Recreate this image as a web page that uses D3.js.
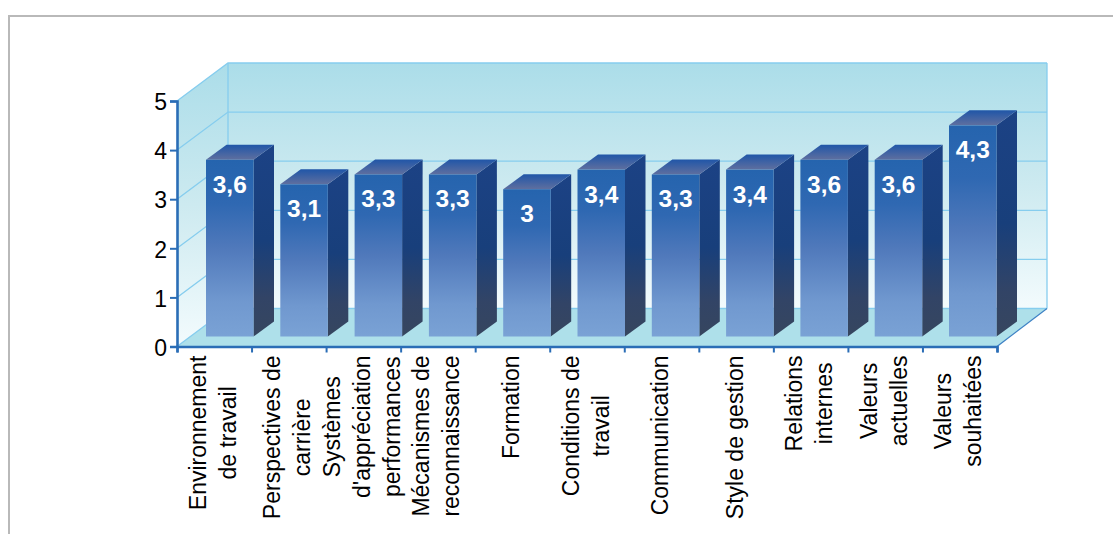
<!DOCTYPE html>
<html>
<head>
<meta charset="utf-8">
<script src="https://cdn.jsdelivr.net/npm/d3@7"></script>
<style>
html,body{margin:0;padding:0;background:#fff;overflow:hidden}
text{font-family:"Liberation Sans",Arial,sans-serif}
</style>
</head>
<body>
<script>
const categories = [
  ["Environnement","de travail"],
  ["Perspectives de","carrière"],
  ["Systèmes","d'appréciation","performances"],
  ["Mécanismes de","reconnaissance"],
  ["Formation"],
  ["Conditions de","travail"],
  ["Communication"],
  ["Style de gestion"],
  ["Relations","internes"],
  ["Valeurs","actuelles"],
  ["Valeurs","souhaitées"]
];
const values = [3.6,3.1,3.3,3.3,3,3.4,3.3,3.4,3.6,3.6,4.3];
const valueLabels = ["3,6","3,1","3,3","3,3","3","3,4","3,3","3,4","3,6","3,6","4,3"];
const yTicks = [0,1,2,3,4,5];

const W=1113,H=534;
const svg=d3.select("body").append("svg").attr("width",W).attr("height",H).style("display","block");
const defs=svg.append("defs");
function grad(id,stops){
  const g=defs.append("linearGradient").attr("id",id).attr("x1",0).attr("y1",0).attr("x2",0).attr("y2",1);
  stops.forEach(s=>g.append("stop").attr("offset",s[0]).attr("stop-color",s[1]));
}
grad("wall",[[0,"#abdde9"],[0.5,"#cdeaf0"],[1,"#f3fbfd"]]);
grad("front",[[0,"#2564ae"],[0.25,"#2f68b2"],[0.5,"#5079bb"],[0.8,"#7098cf"],[1,"#7aa2d5"]]);
grad("side",[[0,"#1c4285"],[0.5,"#183f7b"],[0.8,"#324466"],[1,"#36465f"]]);
grad("top",[[0,"#2056a8"],[1,"#5f6f9f"]]);

// frame
svg.append("path").attr("d",`M9 ${H}V16H${W}`).attr("fill","none").attr("stroke","#b9b9b9").attr("stroke-width",2);

const y=d3.scaleLinear().domain([0,5]).range([346.5,101]);
const xAxisScale=d3.scaleLinear().domain([0,categories.length]).range([177,997]);
const band=d3.scaleBand().domain(d3.range(categories.length)).range([206,996.5]).paddingInner(1-47.5/74.3);
const dep={x:51,y:-38};
const barDep={x:20.5,y:-15};
const baseLift=10;

const x0=xAxisScale(0),x1=xAxisScale(categories.length);
// back wall
svg.append("rect").attr("x",x0+dep.x).attr("y",y(5)+dep.y).attr("width",x1-x0-1).attr("height",y(0)-y(5)).attr("fill","url(#wall)");
// side wall
svg.append("path").attr("d",`M${x0} ${y(0)}L${x0} ${y(5)}L${x0+dep.x} ${y(5)+dep.y}L${x0+dep.x} ${y(0)+dep.y}Z`).attr("fill","url(#wall)");
// floor
svg.append("path").attr("d",`M${x0} ${y(0)}L${x1} ${y(0)}L${x1+dep.x-1} ${y(0)+dep.y}L${x0+dep.x} ${y(0)+dep.y}Z`).attr("fill","#aee0ea");
// grid
const gridColor="#86cdee";
const grid=svg.append("g").attr("fill","none").attr("stroke",gridColor).attr("stroke-width",1.3);
yTicks.forEach(t=>{
  grid.append("path").attr("d",`M${x0} ${y(t)}L${x0+dep.x} ${y(t)+dep.y}L${x1+dep.x-1} ${y(t)+dep.y}`);
});
grid.append("path").attr("d",`M${x0+dep.x} ${y(0)+dep.y}V${y(5)+dep.y}`);
grid.append("path").attr("d",`M${x1+dep.x-1} ${y(0)+dep.y}V${y(5)+dep.y}`);
svg.append("path").attr("d",`M${x1} ${y(0)}L${x1+dep.x-1} ${y(0)+dep.y}`).attr("stroke","#3d80c4").attr("stroke-width",1.2).attr("fill","none");

// bars
const bars=svg.append("g").selectAll("g").data(values).join("g");
const yb=v=>y(v)-baseLift;
bars.append("path").attr("fill","url(#side)").attr("d",(v,i)=>{
  const r=band(i)+band.bandwidth();
  return `M${r} ${yb(0)}L${r} ${yb(v)}L${r+barDep.x} ${yb(v)+barDep.y}L${r+barDep.x} ${yb(0)+barDep.y}Z`;
});
bars.append("path").attr("fill","url(#top)").attr("d",(v,i)=>{
  const l=band(i),r=l+band.bandwidth();
  return `M${l} ${yb(v)}L${r} ${yb(v)}L${r+barDep.x} ${yb(v)+barDep.y}L${l+barDep.x} ${yb(v)+barDep.y}Z`;
});
bars.append("rect").attr("fill","url(#front)")
  .attr("x",(v,i)=>band(i)).attr("width",band.bandwidth())
  .attr("y",v=>yb(v)).attr("height",v=>yb(0)-yb(v));
bars.append("text").text((v,i)=>valueLabels[i])
  .attr("x",(v,i)=>band(i)+band.bandwidth()/2)
  .attr("y",v=>yb(v)+33)
  .attr("text-anchor","middle").attr("fill","#fff").attr("font-weight","bold").attr("font-size",24.5);

// axes
const axisColor="#2a6db6";
const yAxis=svg.append("g").attr("transform",`translate(${x0},0)`)
  .call(d3.axisLeft(y).tickValues(yTicks).tickSize(7).tickFormat(d3.format("d")));
yAxis.selectAll("line").attr("stroke",axisColor).attr("stroke-width",2);
yAxis.select(".domain").attr("stroke",axisColor).attr("stroke-width",2.6);
yAxis.selectAll("text").attr("font-size",23).attr("fill","#000").attr("font-family",'"Liberation Sans",Arial,sans-serif').attr("x",-10).attr("dy","0.38em");

const xAxis=svg.append("g").attr("transform",`translate(0,${y(0)})`)
  .call(d3.axisBottom(xAxisScale).tickValues(d3.range(categories.length+1)).tickSize(6).tickFormat(""));
xAxis.selectAll("line").attr("stroke",axisColor).attr("stroke-width",2);
xAxis.select(".domain").attr("stroke",axisColor).attr("stroke-width",2.6);

// category labels
const lineGap=30, labelTop=355.5, fs=23;
const labels=svg.append("g").selectAll("g").data(categories).join("g");
labels.each(function(lines,i){
  const g=d3.select(this);
  const cx=(xAxisScale(i)+xAxisScale(i+1))/2;
  const ts=lines.map((s,k)=>g.append("text").text(s).attr("font-size",fs).attr("fill","#000").attr("text-anchor","middle"));
  const maxLen=d3.max(ts,t=>t.node().getComputedTextLength());
  const cy=labelTop+maxLen/2;
  ts.forEach((t,k)=>{
    const lx=cx+(k-(lines.length-1)/2)*lineGap+6.5;
    t.attr("transform",`translate(${lx},${cy}) rotate(-90)`);
  });
});
</script>
</body>
</html>
